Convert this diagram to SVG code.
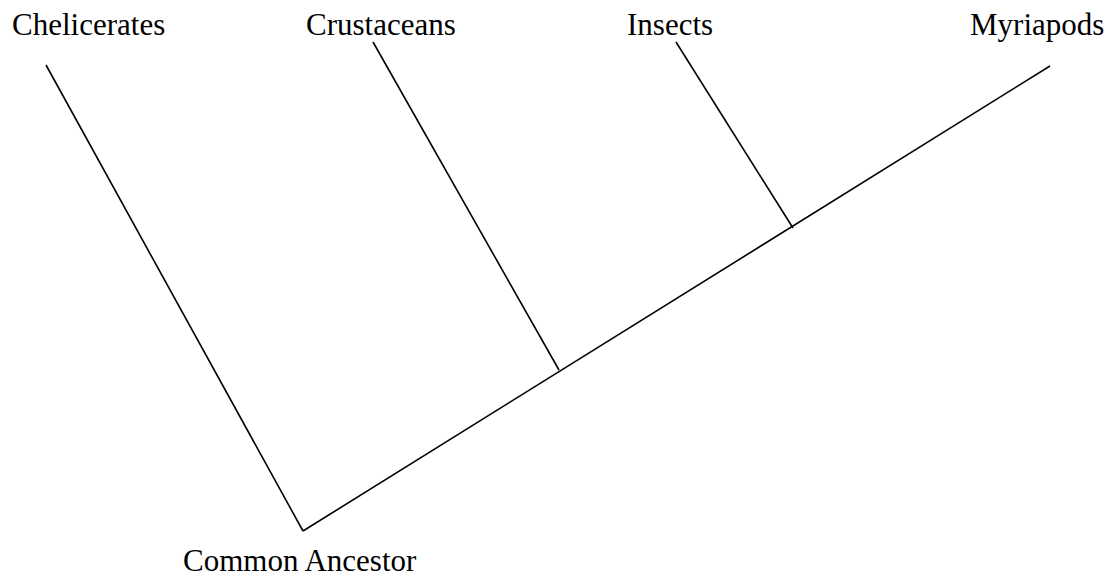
<svg xmlns="http://www.w3.org/2000/svg" width="1114" height="580" viewBox="0 0 1114 580">
<style>
.lbl{font-family:"Liberation Serif","Times New Roman",serif;font-size:31px;fill:#000}
.br{stroke:#000;stroke-width:1.6;fill:none;stroke-linecap:butt}
</style>
<rect width="1114" height="580" fill="#fff"/>
<g id="connectors">
<line class="br" x1="46" y1="65" x2="303" y2="531"/>
<line class="br" x1="303" y1="531" x2="1050" y2="66"/>
<line class="br" x1="373" y1="42" x2="559" y2="370"/>
<line class="br" x1="676" y1="42" x2="793" y2="228"/>
</g>
<g id="chelicerates"><text class="lbl" x="12" y="35">Chelicerates</text></g>
<g id="crustaceans"><text class="lbl" x="306" y="35">Crustaceans</text></g>
<g id="insects"><text class="lbl" x="627" y="35">Insects</text></g>
<g id="myriapods"><text class="lbl" x="970" y="35">Myriapods</text></g>
<g id="ancestor"><text class="lbl" x="183" y="571">Common Ancestor</text></g>
</svg>
